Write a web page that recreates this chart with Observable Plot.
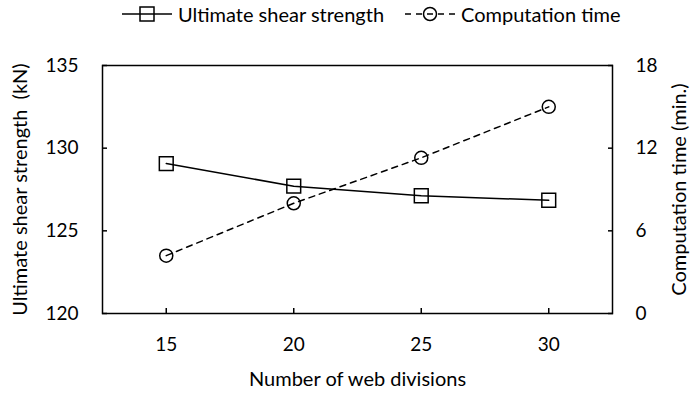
<!DOCTYPE html>
<html><head><meta charset="utf-8">
<script src="https://cdn.jsdelivr.net/npm/d3@7"></script>
<script src="https://cdn.jsdelivr.net/npm/@observablehq/plot@0.6"></script>
<style>
body{margin:0;background:#fff;font-family:Lato, "Open Sans", sans-serif;color:#000;}
#legend{height:40px;position:relative;font-size:20px;}
#legend .item{position:absolute;top:2px;display:flex;align-items:center;height:24px;}
#legend svg{margin-right:6px;}
#chart svg{display:block;}
</style></head><body>
<div id="legend"></div>
<div id="chart"></div>
<script>
const divisions = [15, 20, 25, 30];
const shearStrength = [129.07, 127.70, 127.12, 126.85];
const computationTime = [4.2, 8.0, 11.3, 15.0];
const leftTicks = [120, 125, 130, 135];
const rightTicks = [0, 6, 12, 18];
const seriesNames = ["Ultimate shear strength", "Computation time"];

const leftDomain = [leftTicks[0], leftTicks[leftTicks.length - 1]];
const rightDomain = [rightTicks[0], rightTicks[rightTicks.length - 1]];
const toLeft = t => leftDomain[0] + (t - rightDomain[0]) * (leftDomain[1] - leftDomain[0]) / (rightDomain[1] - rightDomain[0]);
const toRight = v => rightDomain[0] + (v - leftDomain[0]) * (rightDomain[1] - rightDomain[0]) / (leftDomain[1] - leftDomain[0]);

const shearData = divisions.map((d, i) => ({d, v: shearStrength[i]}));
const timeData = divisions.map((d, i) => ({d, v: toLeft(computationTime[i])}));
const step = divisions[1] - divisions[0];

const titleFont = {fontSize: 20};
const chart = Plot.plot({
  width: 691,
  height: 355,
  marginTop: 25,
  marginBottom: 82,
  marginLeft: 102,
  marginRight: 79,
  style: {fontFamily: "Lato, 'Open Sans', sans-serif", fontSize: "19px", color: "#000"},
  x: {domain: [divisions[0] - step / 2, divisions[divisions.length - 1] + step / 2]},
  y: {domain: leftDomain},
  marks: [
    Plot.frame({stroke: "#000", strokeWidth: 1.5}),
    Plot.axisX(divisions, {anchor: "bottom", tickSize: -5, tickPadding: 29, strokeWidth: 1.5,
      tickFormat: d => String(d), label: null}),
    Plot.axisY(leftTicks, {anchor: "left", tickSize: -5, tickPadding: 29, strokeWidth: 1.5,
      tickFormat: d => String(d), label: null}),
    Plot.axisY(rightTicks.map(toLeft), {anchor: "right", tickSize: -5, tickPadding: 28, strokeWidth: 1.5,
      tickFormat: d => String(Math.round(toRight(d))), label: null}),
    Plot.text(["Number of web divisions"], {frameAnchor: "bottom", dy: 66, lineAnchor: "middle", ...titleFont}),
    Plot.text(["Ultimate shear strength  (kN)"], {frameAnchor: "left", dx: -82, rotate: -90, textAnchor: "middle", lineAnchor: "middle", ...titleFont}),
    Plot.text(["Computation time (min.)"], {frameAnchor: "right", dx: 67, rotate: -90, textAnchor: "middle", lineAnchor: "middle", ...titleFont}),
    Plot.line(shearData, {x: "d", y: "v", stroke: "#000", strokeWidth: 1.5}),
    Plot.line(timeData, {x: "d", y: "v", stroke: "#000", strokeWidth: 1.5, strokeDasharray: "6,5"}),
    Plot.dot(shearData, {x: "d", y: "v", symbol: "square", r: 7.8, stroke: "#000", strokeWidth: 1.5, fill: "none"}),
    Plot.dot(timeData, {x: "d", y: "v", symbol: "circle", r: 6.5, stroke: "#000", strokeWidth: 1.5, fill: "none"})
  ]
});
document.getElementById("chart").appendChild(chart);

// legend
const legend = document.getElementById("legend");
const items = [
  {name: seriesNames[0], left: 122, dash: null, shape: "square"},
  {name: seriesNames[1], left: 405, dash: "6,5", shape: "circle"}
];
for (const it of items) {
  const div = document.createElement("div");
  div.className = "item";
  div.style.left = it.left + "px";
  const ns = "http://www.w3.org/2000/svg";
  const s = document.createElementNS(ns, "svg");
  s.setAttribute("width", 50); s.setAttribute("height", 20);
  const ln = document.createElementNS(ns, "line");
  ln.setAttribute("x1", 0); ln.setAttribute("x2", 50); ln.setAttribute("y1", 10); ln.setAttribute("y2", 10);
  ln.setAttribute("stroke", "#000"); ln.setAttribute("stroke-width", 1.5);
  if (it.dash) ln.setAttribute("stroke-dasharray", it.dash);
  s.appendChild(ln);
  let m;
  if (it.shape === "square") {
    m = document.createElementNS(ns, "rect");
    m.setAttribute("x", 18); m.setAttribute("y", 3); m.setAttribute("width", 14); m.setAttribute("height", 14);
  } else {
    m = document.createElementNS(ns, "circle");
    m.setAttribute("cx", 25); m.setAttribute("cy", 10); m.setAttribute("r", 6.5);
  }
  m.setAttribute("fill", "none"); m.setAttribute("stroke", "#000"); m.setAttribute("stroke-width", 1.5);
  s.appendChild(m);
  div.appendChild(s);
  const t = document.createElement("span");
  t.textContent = it.name;
  div.appendChild(t);
  legend.appendChild(div);
}
</script>
</body></html>
